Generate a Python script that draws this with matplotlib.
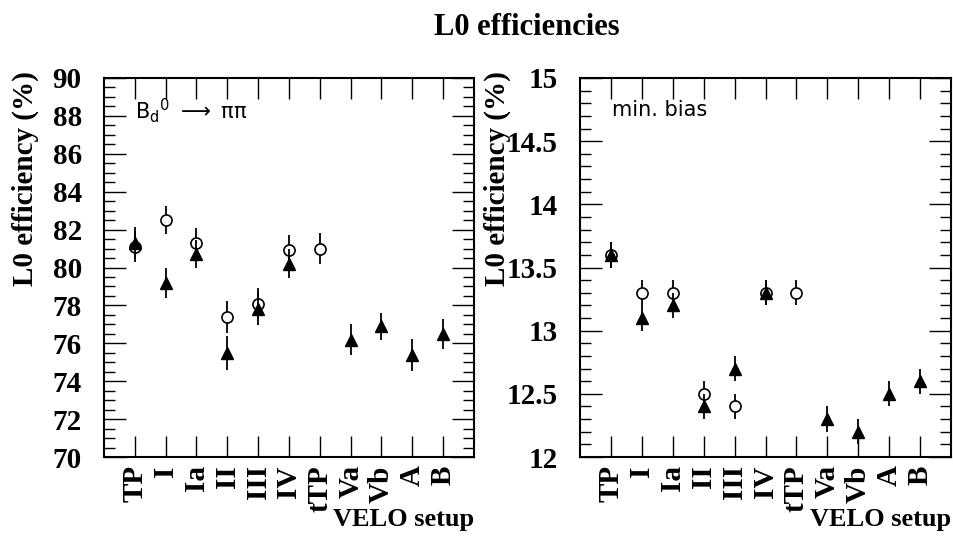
import numpy as np
import matplotlib
matplotlib.use("Agg")
import matplotlib.pyplot as plt
from matplotlib.ticker import MultipleLocator

plt.rcParams['font.family'] = ['Liberation Serif', 'DejaVu Serif']
plt.rcParams['mathtext.fontset'] = 'dejavusans'

# categories (VELO setups)
setups = ['TP', 'I', 'Ia', 'II', 'III', 'IV', 'tTP', 'Va', 'Vb', 'A', 'B']

# B_d -> pi pi  (open circles, only first 7 setups)
bpp_open = [81.1, 82.5, 81.3, 77.4, 78.1, 80.9, 81.0]
bpp_open_err = [0.8, 0.75, 0.8, 0.85, 0.8, 0.8, 0.8]
# B_d -> pi pi  (filled triangles)
bpp_tri = [81.3, 79.2, 80.7, 75.5, 77.8, 80.2, np.nan, 76.2, 76.9, 75.4, 76.5]
bpp_tri_err = [0.85, 0.8, 0.75, 0.9, 0.85, 0.75, np.nan, 0.8, 0.7, 0.85, 0.8]

# minimum bias
mb_open = [13.6, 13.3, 13.3, 12.5, 12.4, 13.3, 13.3]
mb_open_err = [0.1, 0.1, 0.1, 0.1, 0.1, 0.1, 0.1]
mb_tri = [13.6, 13.1, 13.2, 12.4, 12.7, 13.3, np.nan, 12.3, 12.2, 12.5, 12.6]
mb_tri_err = [0.1, 0.1, 0.1, 0.1, 0.1, 0.1, np.nan, 0.1, 0.1, 0.1, 0.1]

fig = plt.figure(figsize=(9.54, 5.38), dpi=100)
ax1 = fig.add_axes([104/954, 81/538, 370/954, 379/538])
ax2 = fig.add_axes([580/954, 81/538, 371/954, 379/538])

x = np.arange(1, len(setups) + 1)


def panel(ax, opn, opn_err, tri, tri_err, ylim, major, minor, labx):
    xo = x[:len(opn)]
    ax.errorbar(xo, opn, yerr=opn_err, fmt='o', mfc='white', mec='black',
                mew=1.2, ms=8, ecolor='black', elinewidth=1.3, capsize=0, zorder=3)
    ax.errorbar(x, tri, yerr=tri_err, fmt='^', mfc='black', mec='black',
                ms=8, ecolor='black', elinewidth=1.3, capsize=0, zorder=4)
    ax.set_xlim(0, 12)
    ax.set_ylim(*ylim)
    ax.set_xticks(x)
    ax.set_xticklabels(setups, rotation=90, fontsize=21, fontweight='bold')
    ax.yaxis.set_major_locator(MultipleLocator(major))
    ax.yaxis.set_minor_locator(MultipleLocator(minor))
    ax.tick_params(axis='x', direction='in', length=15, width=1, top=True,
                   pad=6)
    ax.tick_params(axis='y', which='major', direction='in', length=16,
                   width=1, right=True, labelsize=21, pad=16)
    ax.tick_params(axis='y', which='minor', direction='in', length=8,
                   width=1, right=True)
    for lab in ax.get_yticklabels():
        lab.set_fontweight('bold')
    for s in ax.spines.values():
        s.set_linewidth(1.5)
    ax.set_ylabel('L0 efficiency (%)', fontsize=21, fontweight='bold')
    ax.yaxis.set_label_coords(labx, 0.735)
    ax.set_xlabel('VELO setup', fontsize=19, fontweight='bold', loc='right',
                  labelpad=-3)


panel(ax1, bpp_open, bpp_open_err, bpp_tri, bpp_tri_err, (70, 90), 2, 0.5, -0.175)
panel(ax2, mb_open, mb_open_err, mb_tri, mb_tri_err, (12, 15), 0.5, 0.1, -0.185)
ax2.yaxis.set_major_formatter(plt.FuncFormatter(lambda v, p: f'{v:g}'))

ax1.text(0.085, 0.915, r'B$_{\rm d}$$^{\rm 0}$ $\longrightarrow$ ππ',
         transform=ax1.transAxes, fontsize=15, family='DejaVu Sans',
         va='center', color='black')
ax2.text(0.085, 0.915, 'min. bias', transform=ax2.transAxes, fontsize=15,
         family='DejaVu Sans', va='center', color='black')

fig.text(527/954, 1 - 35/538, 'L0 efficiencies', ha='center', va='baseline',
         fontsize=22, fontweight='bold')

fig.savefig('out.png', dpi=100)
